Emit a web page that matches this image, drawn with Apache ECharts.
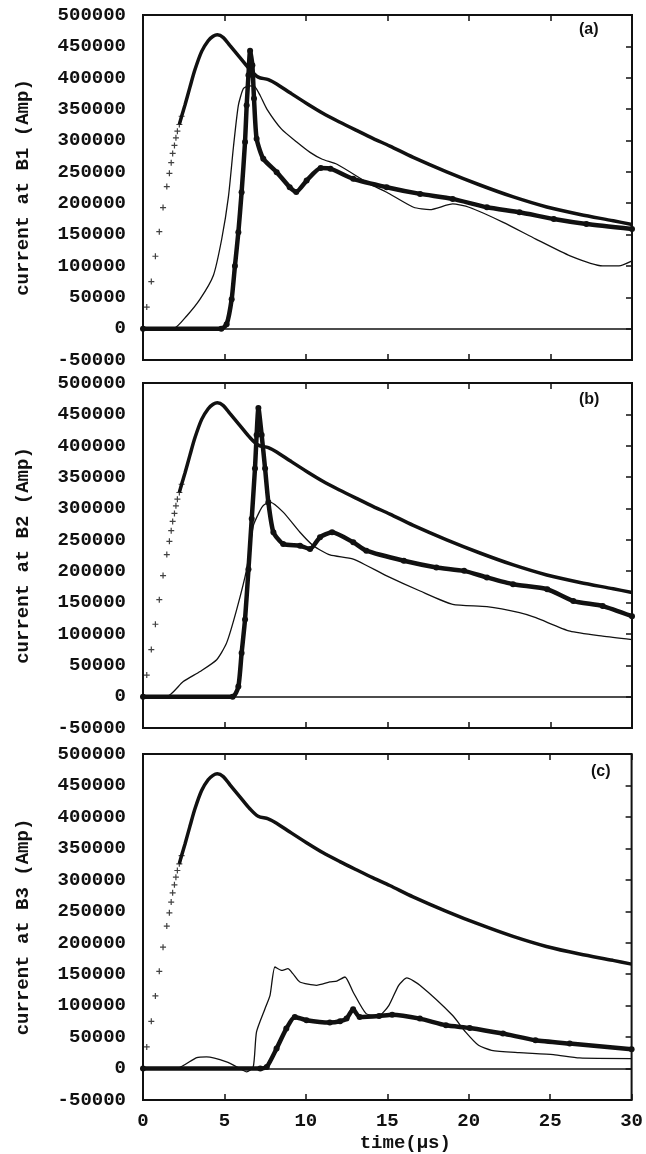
<!DOCTYPE html>
<html>
<head>
<meta charset="utf-8">
<script src="https://cdn.jsdelivr.net/npm/echarts@6/dist/echarts.min.js"></script>
<style>
html,body{margin:0;padding:0;background:#fff;}
#chart{width:646px;height:1154px;}
</style>
</head>
<body>
<div id="chart"></div>
<script>
// ---- data (time in µs, current in A) ----
const panelTags = ['(a)', '(b)', '(c)'];
const yAxisNames = ['current at B1 (Amp)', 'current at B2 (Amp)', 'current at B3 (Amp)'];
const xAxisName = 'time(\u03bcs)';
const xMin = 0, xMax = 30, xStep = 5;
const yMin = -50000, yMax = 500000, yStep = 50000;

// source current: sparse "+" marks, then dense part
const sourceMarks = [[0,0],[0.23,34400],[0.51,75100],[0.76,115400],[1.0,154500],[1.23,193000],[1.46,226500],[1.62,247600],[1.73,264600],[1.82,279400],[1.93,292000],[2.02,304200],[2.11,314800],[2.23,325400],[2.37,338600]];
const sourceLine = [[2.23,325400],[2.37,338600],[2.58,357000],[2.88,385000],[3.19,413000],[3.6,442000],[4.0,459000],[4.3,466000],[4.56,468500],[4.93,464000],[5.34,451000],[5.95,432000],[6.56,413000],[7.07,401000],[7.69,397000],[8.2,390000],[9.02,376000],[10.04,359000],[11.06,343000],[12.09,329000],[13.1,316000],[14.13,303000],[15.15,291000],[16.58,273000],[18.63,250000],[20.67,229000],[22.72,210000],[24.77,194000],[26.81,182000],[28.85,172000],[30,166000]];

// panel (a) B1
const b1Thick = [[0,0],[4.8,0],[5.13,6900],[5.44,47000],[5.64,100000],[5.85,153500],[6.05,217500],[6.26,297500],[6.36,356000],[6.47,404000],[6.57,443000],[6.71,420000],[6.81,366800],[6.97,302800],[7.38,270800],[8.2,249500],[9.0,225500],[9.4,218000],[10.04,236000],[10.9,256000],[11.5,255000],[12.9,238800],[14.95,225500],[17.0,214800],[19.0,206800],[21.1,193500],[23.1,185500],[25.2,174800],[27.2,166800],[30,158800]];
const b1Thin = [[0,0],[1.86,0],[2.68,20200],[3.5,46900],[4.31,84200],[4.83,142900],[5.24,210000],[5.55,290000],[5.85,356000],[6.16,382800],[6.5,387000],[6.85,386000],[7.18,372000],[7.6,350000],[8.5,318000],[9.43,297500],[10.25,281000],[11.0,270000],[11.9,262000],[13.9,230800],[14.95,217500],[16.6,193500],[17.6,189700],[19.0,198800],[20.0,193500],[22.1,169500],[24.1,142800],[26.2,116100],[28.2,100100],[29.2,100000],[30,108000]];

// panel (b) B2
const b2Thick = [[0,0],[5.5,0],[5.85,16000],[6.05,69600],[6.26,123000],[6.47,203000],[6.67,283400],[6.87,363600],[6.97,417000],[7.08,460000],[7.28,417000],[7.49,363600],[7.69,310000],[8.0,262100],[8.6,243300],[9.63,240600],[10.25,235300],[10.86,254100],[11.6,262100],[12.9,246000],[13.7,232600],[16.0,216600],[18.0,206000],[19.7,200500],[21.1,190000],[22.7,179200],[24.8,171200],[26.4,152400],[28.2,144400],[30,128300]];
const b2Thin = [[0,0],[1.45,0],[2.47,24000],[3.5,40100],[4.52,58900],[5.13,85700],[5.75,139100],[6.36,203300],[6.77,272700],[7.18,296800],[7.38,304800],[7.79,310200],[8.6,294200],[9.63,262100],[10.45,240600],[11.47,226000],[12.9,219300],[14.95,192500],[17.0,168400],[19.0,147100],[21.1,143400],[23.1,133800],[24.1,125800],[26.2,104300],[28.2,96300],[30,91000]];

// panel (c) B3
const b3Thick = [[0,0],[7.2,0],[7.6,2600],[8.2,31700],[8.8,63500],[9.32,82000],[10.04,76700],[11.47,73000],[12.1,75100],[12.5,79400],[12.9,94100],[13.3,82000],[14.5,83600],[15.3,85700],[17.0,79400],[18.6,68700],[20.06,64600],[22.1,55600],[24.1,44900],[26.2,39700],[30,30700]];
const b3Thin = [[0,0],[2.06,0],[3.3,17500],[3.9,18500],[5.13,10600],[5.95,0],[6.36,-5300],[6.77,2600],[6.97,58300],[7.49,95200],[7.8,116400],[8.1,161400],[8.5,156000],[8.9,158700],[9.2,150800],[9.63,137600],[10.65,132300],[11.47,137600],[11.9,139000],[12.4,145500],[12.9,121700],[13.7,87300],[14.5,84600],[15.1,100500],[15.7,132300],[16.2,144000],[17.0,132300],[19.0,84600],[19.8,58300],[20.6,37000],[21.4,29000],[23.1,25400],[25.2,22200],[26.8,16900],[30,15900]];

const thickSets = [b1Thick, b2Thick, b3Thick];
const thinSets = [b1Thin, b2Thin, b3Thin];

// ---- layout ----
const gridBoxes = [
  {left: 143, top: 15, width: 489, height: 345},
  {left: 143, top: 383, width: 489, height: 345},
  {left: 143, top: 754, width: 489, height: 347}
];
const tagPos = [[579, 22], [579, 392], [591, 764]];
const MONO = '"Liberation Mono", "DejaVu Sans Mono", monospace';
const INK = '#111';

const grid = [], xAxis = [], yAxis = [], series = [], graphic = [];
const plusPath = 'path://M4,0 L6,0 L6,4 L10,4 L10,6 L6,6 L6,10 L4,10 L4,6 L0,6 L0,4 L4,4 Z';
const txt = {color: INK, fontFamily: MONO, fontSize: 19, fontWeight: 'bold'};

gridBoxes.forEach((g, i) => {
  const last = i === gridBoxes.length - 1;
  grid.push(Object.assign({show: true, borderColor: INK, borderWidth: 2, backgroundColor: 'transparent'}, g));
  xAxis.push({
    type: 'value', gridIndex: i, min: xMin, max: xMax, interval: xStep, position: 'bottom',
    axisLine: {show: false, onZero: false}, splitLine: {show: false},
    axisTick: {show: true, inside: true, length: 6, lineStyle: {color: INK, width: 1.5}},
    axisLabel: Object.assign({show: last, margin: 12, formatter: v => String(v)}, txt),
    name: last ? xAxisName : '', nameLocation: 'middle', nameGap: 34,
    nameTextStyle: Object.assign({padding: [0, 0, 0, 36]}, txt)
  });
  xAxis.push({
    type: 'value', gridIndex: i, min: xMin, max: xMax, interval: xStep, position: 'top',
    axisLine: {show: false, onZero: false}, splitLine: {show: false}, axisLabel: {show: false},
    axisTick: {show: true, inside: true, length: 6, lineStyle: {color: INK, width: 1.5}}
  });
  yAxis.push({
    type: 'value', gridIndex: i, min: yMin, max: yMax, interval: yStep, position: 'left',
    axisLine: {show: false, onZero: false}, splitLine: {show: false}, axisTick: {show: false},
    axisLabel: Object.assign({margin: 17, formatter: v => String(v)}, txt),
    name: yAxisNames[i], nameLocation: 'middle', nameGap: 110, nameRotate: 90,
    nameTextStyle: Object.assign({}, txt)
  });
  yAxis.push({
    type: 'value', gridIndex: i, min: yMin, max: yMax, interval: yStep, position: 'right',
    axisLine: {show: false, onZero: false}, splitLine: {show: false}, axisLabel: {show: false},
    axisTick: {show: true, inside: true, length: 6, lineStyle: {color: INK, width: 1.5}}
  });

  const xi = 2 * i, yi = 2 * i;
  series.push({
    type: 'line', name: 'thin', xAxisIndex: xi, yAxisIndex: yi, data: thinSets[i],
    showSymbol: false, smooth: 0.2,
    lineStyle: {color: INK, width: 1.3}, z: 3, silent: true,
    markLine: {silent: true, symbol: 'none', label: {show: false},
      lineStyle: {color: INK, width: 1.5, type: 'solid'}, data: [{yAxis: 0}]}
  });
  series.push({
    type: 'line', name: 'thick', xAxisIndex: xi, yAxisIndex: yi, data: thickSets[i],
    showSymbol: true, symbol: 'circle', symbolSize: 6,
    itemStyle: {color: INK}, smooth: 0.2,
    lineStyle: {color: INK, width: 4.5}, z: 4, silent: true
  });
  series.push({
    type: 'line', name: 'source', xAxisIndex: xi, yAxisIndex: yi, data: sourceLine,
    showSymbol: false, smooth: 0.3,
    lineStyle: {color: INK, width: 3.5}, z: 4, silent: true
  });
  series.push({
    type: 'scatter', name: 'source marks', xAxisIndex: xi, yAxisIndex: yi, data: sourceMarks,
    symbol: plusPath, symbolSize: 6, itemStyle: {color: INK}, z: 5, silent: true
  });

  graphic.push({
    type: 'text', left: tagPos[i][0], top: tagPos[i][1],
    style: {text: panelTags[i], fill: INK, font: 'bold 16px "Liberation Sans", Arial, sans-serif'}
  });
});

const chart = echarts.init(document.getElementById('chart'), null, {renderer: 'canvas'});
chart.setOption({animation: false, backgroundColor: '#fff', grid, xAxis, yAxis, series, graphic});
</script>
</body>
</html>
